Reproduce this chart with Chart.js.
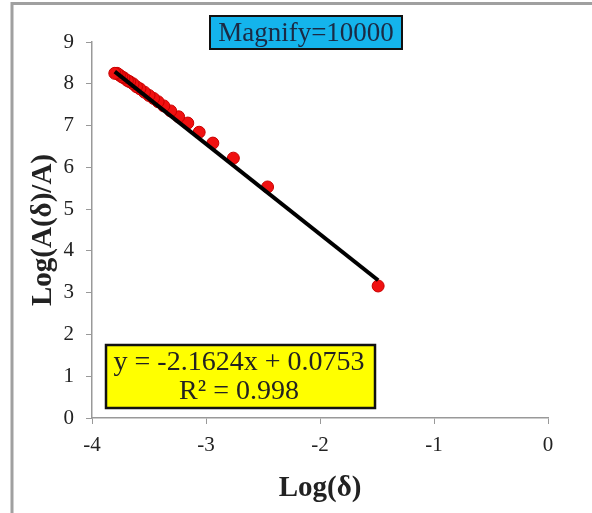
<!DOCTYPE html>
<html>
<head>
<meta charset="utf-8">
<script src="https://cdn.jsdelivr.net/npm/chart.js@4.4.0/dist/chart.umd.min.js"></script>
<style>
    html, body { margin: 0; padding: 0; background: #fff; }
    #wrap { width: 592px; height: 513px; }
</style>
</head>
<body>
<div id="wrap"><canvas id="chart" width="592" height="513"></canvas></div>
<script>
// data
const logDelta = [-1.49, -2.46, -2.76, -2.94, -3.06, -3.16, -3.24, -3.31, -3.37, -3.42, -3.46,
    -3.50, -3.54, -3.58, -3.61, -3.64, -3.67, -3.69, -3.72, -3.74, -3.76, -3.78, -3.80];
const logRatio = [3.16, 5.53, 6.22, 6.58, 6.84, 7.06, 7.21, 7.35, 7.47, 7.57, 7.65,
    7.72, 7.80, 7.88, 7.93, 8.00, 8.05, 8.08, 8.14, 8.17, 8.21, 8.25, 8.25];
const fitCoef = [-2.1624, 0.0753];   // slope, intercept
const rSquared = 0.998;
const xTicks = [-4, -3, -2, -1, 0];
const yTicks = [0, 1, 2, 3, 4, 5, 6, 7, 8, 9];

const points = logDelta.map((x, i) => ({ x: x, y: logRatio[i] }));
const xMin = Math.min(...logDelta), xMax = Math.max(...logDelta);
const trend = [xMin, xMax].map(x => ({ x: x, y: fitCoef[0] * x + fitCoef[1] }));

const serif = '"Liberation Serif", "Times New Roman", serif';

/**
 * Draws the grey frame and the two text boxes
 */
const decorations = {
    id: 'decorations',
    beforeDraw(chart) {
        const ctx = chart.ctx;
        ctx.save();
        ctx.strokeStyle = '#a0a0a0';
        ctx.lineWidth = 3;
        ctx.beginPath();
        ctx.moveTo(12, 513);
        ctx.lineTo(12, 3.5);
        ctx.lineTo(592, 3.5);
        ctx.stroke();
        ctx.restore();
    },
    afterDraw(chart) {
        const ctx = chart.ctx;
        ctx.save();
        // magnify label
        ctx.fillStyle = '#14b4ec';
        ctx.fillRect(210, 16, 192, 33);
        ctx.strokeStyle = '#111';
        ctx.lineWidth = 2;
        ctx.strokeRect(210, 16, 192, 33);
        ctx.fillStyle = '#1b2a44';
        ctx.font = '27px ' + serif;
        ctx.textAlign = 'center';
        ctx.textBaseline = 'middle';
        ctx.fillText('Magnify=10000', 306, 34);

        // trendline equation
        ctx.fillStyle = '#ffff00';
        ctx.fillRect(106, 345, 269, 63);
        ctx.strokeStyle = '#111';
        ctx.lineWidth = 2.5;
        ctx.strokeRect(106, 345, 269, 63);
        ctx.fillStyle = '#222';
        ctx.font = '28px ' + serif;
        ctx.fillText('y = ' + fitCoef[0] + 'x + ' + fitCoef[1], 239, 363);
        ctx.fillText('R² = ' + rSquared, 239, 392);
        ctx.restore();
    }
};

const ctx = document.getElementById('chart').getContext('2d');

new Chart(ctx, {
    type: 'scatter',
    data: {
        datasets: [{
            label: 'Linear fit',
            type: 'line',
            data: trend,
            borderColor: '#000',
            borderWidth: 4,
            pointRadius: 0,
            fill: false,
            order: 0
        }, {
            label: 'Log(A(δ)/A)',
            data: points,
            backgroundColor: '#f01010',
            borderColor: '#c80000',
            borderWidth: 1,
            pointRadius: 6,
            order: 1
        }]
    },
    options: {
        responsive: false,
        animation: false,
        layout: {
            padding: { left: 20, right: 44, top: 42, bottom: 0 }
        },
        plugins: {
            legend: { display: false },
            tooltip: { enabled: false }
        },
        scales: {
            x: {
                type: 'linear',
                min: -4,
                max: 0,
                afterBuildTicks: (axis) => { axis.ticks = xTicks.map(v => ({ value: v })); },
                ticks: {
                    color: '#222',
                    font: { family: serif, size: 21 },
                    padding: 9
                },
                grid: {
                    drawOnChartArea: false,
                    drawTicks: true,
                    tickLength: 6,
                    color: '#999'
                },
                border: { color: '#999', width: 1.5 },
                title: {
                    display: true,
                    text: 'Log(δ)',
                    color: '#222',
                    font: { family: serif, size: 29, weight: 'bold' },
                    padding: { top: 9, bottom: 7 }
                },
                afterFit: (axis) => { axis.height = 95; }
            },
            y: {
                min: 0,
                max: 9,
                afterBuildTicks: (axis) => { axis.ticks = yTicks.map(v => ({ value: v })); },
                ticks: {
                    color: '#222',
                    font: { family: serif, size: 21 },
                    padding: 12
                },
                grid: {
                    drawOnChartArea: false,
                    drawTicks: true,
                    tickLength: 6,
                    color: '#999'
                },
                border: { color: '#999', width: 1.5 },
                title: {
                    display: true,
                    text: 'Log(A(δ)/A)',
                    color: '#222',
                    font: { family: serif, size: 29, weight: 'bold' },
                    padding: { top: 6, bottom: 0 }
                },
                afterFit: (axis) => { axis.width = 72; }
            }
        }
    },
    plugins: [decorations]
});
</script>
</body>
</html>
